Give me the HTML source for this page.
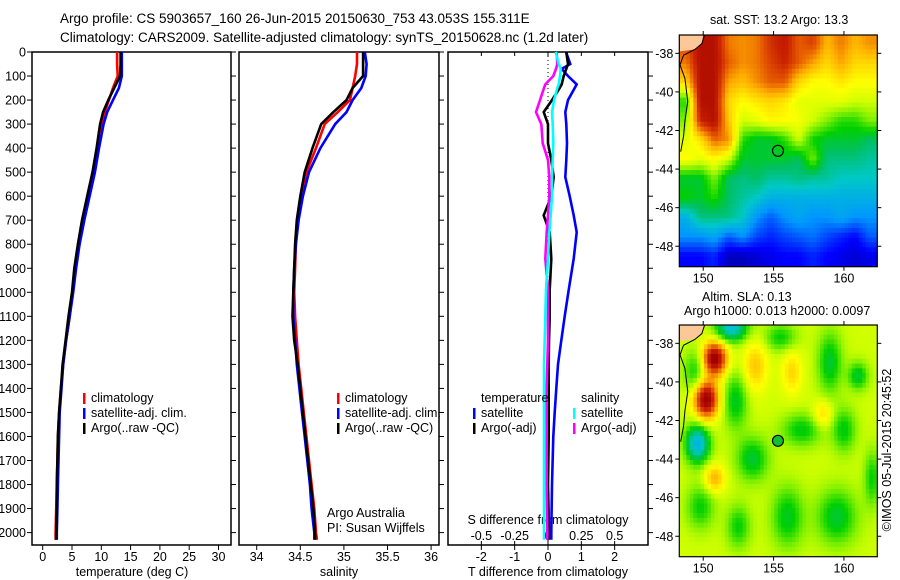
<!DOCTYPE html>
<html><head><meta charset="utf-8"><style>
body{margin:0;background:#fff}
svg{display:block;font-family:"Liberation Sans",sans-serif}
text{font-size:12.5px;fill:#000}
</style></head><body>
<svg id="s" width="900" height="580" xmlns="http://www.w3.org/2000/svg">
<rect width="900" height="580" fill="#fff"/>
<defs>
<clipPath id="c1"><rect x="679.3" y="35" width="198" height="231.7"/></clipPath>
<clipPath id="c2"><rect x="679.3" y="325" width="198" height="231.7"/></clipPath>
</defs>
<text x="60" y="23" style="font-size:13.5px">Argo profile: CS 5903657_160 26-Jun-2015 20150630_753 43.053S 155.311E</text>
<text x="60" y="42" style="font-size:13.5px">Climatology: CARS2009. Satellite-adjusted climatology: synTS_20150628.nc (1.2d later)</text>
<g id="g"></g>
</svg>
<script>
// ---- data ----
const depths=[0,50,100,150,200,250,300,400,500,600,700,800,900,1000,1100,1200,1300,1400,1500,1600,1700,1800,1900,2000,2030];
const tClim=[12.7,12.7,12.8,12.0,11.3,10.6,10.0,9.4,8.7,7.8,6.9,6.1,5.5,5.1,4.6,4.0,3.5,3.1,2.8,2.6,2.5,2.4,2.3,2.2,2.2];
const tSat=[13.5,13.5,13.5,13.0,12.0,11.0,10.4,9.6,8.9,8.0,7.1,6.3,5.7,5.2,4.6,4.0,3.5,3.2,2.9,2.8,2.7,2.6,2.5,2.4,2.4];
const tArgo=[13.3,13.3,13.2,12.2,11.2,10.3,9.8,9.2,8.5,7.6,6.7,6.0,5.4,5.0,4.4,3.9,3.4,3.1,2.8,2.6,2.5,2.4,2.4,2.3,2.3];
const sClim=[35.15,35.15,35.13,35.1,35.07,34.93,34.78,34.68,34.57,34.51,34.47,34.45,34.44,34.43,34.44,34.46,34.48,34.51,34.54,34.57,34.6,34.63,34.66,34.68,34.69];
const sSat=[35.24,35.26,35.25,35.2,35.1,35.03,34.9,34.73,34.6,34.53,34.48,34.45,34.43,34.42,34.42,34.44,34.46,34.49,34.52,34.55,34.58,34.61,34.63,34.66,34.66];
const sArgo=[35.22,35.22,35.22,35.1,35.03,34.88,34.74,34.64,34.55,34.5,34.46,34.44,34.43,34.42,34.41,34.43,34.47,34.5,34.53,34.56,34.59,34.62,34.65,34.67,34.67];
const dDepths=[0,50,70,100,135,150,200,250,300,380,450,520,600,680,750,860,990,1100,1200,1300,1400,1500,1600,1800,2000,2030];
const dtSat=[0.54,0.67,0.41,0.6,0.86,0.8,0.6,0.52,0.55,0.57,0.55,0.52,0.65,0.77,0.86,0.77,0.62,0.5,0.4,0.3,0.25,0.2,0.16,0.12,0.1,0.1];
const dtArgo=[0.55,0.6,0.55,0.47,0.41,0.35,0.12,-0.13,0,0,0.1,0.17,0.1,-0.13,0.05,0.1,0.05,0.05,0.03,0.02,0.02,0.02,0.02,0,0.03,0.03];
const dsSat=[0.058,0.08,0.095,0.09,0.08,0.07,0.045,0.03,0.035,0.04,0.035,0.03,0.03,0.02,0.01,0.0,-0.015,-0.02,-0.025,-0.03,-0.03,-0.03,-0.03,-0.03,-0.03,-0.03];
const dsArgo=[0.065,0.07,0.06,0.04,-0.02,-0.03,-0.06,-0.09,-0.05,-0.04,0,0.01,0.01,0.0,-0.01,-0.02,0,0,0,-0.005,-0.01,-0.01,-0.01,-0.01,-0.005,-0.005];
const depthTicks=[0,100,200,300,400,500,600,700,800,900,1000,1100,1200,1300,1400,1500,1600,1700,1800,1900,2000];
const tTicks=[0,5,10,15,20,25,30];
const sTicks=["34","34.5","35","35.5","36"];
const dtTicks=["-2","-1","0","1","2"];
const dsTicks=["-0.5","-0.25","0","0.25","0.5"];
const latTicks=[-38,-40,-42,-44,-46,-48];
const lonTicks=[150,155,160];
const sst=[
[.85,.95,.95,.8,.78,.8,.88,.92,.83,.86,.74,.8,.74,.78],
[.8,.95,.95,.83,.78,.8,.86,.9,.83,.76,.7,.76,.7,.7],
[.7,.95,.95,.76,.73,.78,.83,.83,.7,.65,.65,.68,.65,.65],
[.5,.95,.95,.7,.65,.68,.7,.68,.62,.62,.62,.62,.6,.6],
[.55,.9,.95,.72,.6,.62,.66,.65,.64,.6,.55,.5,.5,.55],
[.62,.68,.82,.78,.5,.45,.45,.5,.6,.48,.45,.45,.45,.42],
[.65,.62,.65,.6,.45,.45,.45,.45,.42,.55,.4,.4,.4,.38],
[.45,.45,.55,.42,.4,.42,.38,.38,.4,.38,.38,.35,.35,.35],
[.48,.45,.5,.42,.38,.35,.3,.3,.3,.3,.3,.3,.3,.3],
[.3,.4,.4,.4,.35,.25,.2,.25,.28,.25,.25,.28,.25,.25],
[.25,.25,.28,.2,.25,.18,.15,.18,.2,.22,.18,.15,.12,.2],
[.12,.12,.15,.06,.06,.08,.1,.12,.12,.15,.12,.1,.08,.1]];
const slaBase=0.6;
const slaLon=[150.8,150.2,149.6,152,153.7,156.3,150.8,149.5,152.3,155.5,157,159,161,153.5,160,159.5,156,152.5,149.8,162,158.5];
const slaLat=[-38.8,-40.9,-43.2,-37.2,-39.2,-39.5,-45,-39.5,-41,-37.7,-42.5,-39,-39.7,-44,-42.5,-47,-47,-47.5,-46.5,-45,-41.7];
const slaAmp=[.42,.42,-.3,-.27,.12,.1,.15,-.13,-.14,-.12,-.13,-.15,-.15,-.15,-.13,-.15,-.14,-.12,-.12,-.12,.1];
const slaSx=[.6,.6,.6,.8,.6,.5,.5,.6,.6,.8,1.0,.6,.5,.8,.6,1.0,.8,.6,.7,.4,.5];
const slaSy=[.6,.7,.7,.5,.9,.8,.5,.8,1.0,.5,.6,1.1,.5,.8,.8,1.0,1.1,.8,.8,1.0,.5];
const floatLon=155.311, floatLat=-43.053;

const NS="http://www.w3.org/2000/svg";
const G=document.getElementById('g');
function el(t,a,p){const e=document.createElementNS(NS,t);for(const k in a)e.setAttribute(k,a[k]);(p||G).appendChild(e);return e;}
function txt(x,y,s,anchor,p){const e=el('text',{x:x,y:y,'text-anchor':anchor||'start'},p);e.textContent=s;return e;}
const yTop=52,yBot=545;
const yD=d=>yTop+d*0.2403;
const panels=[{x0:32,x1:231},{x0:239,x1:439},{x0:448,x1:648}];
const xT=t=>42.7+t*5.86, xS=s=>256.7+(s-34)*87.2, xDT=v=>548+v*33.33, xDS=v=>548+v*133.3;

panels.forEach((p,i)=>{
 const r=el('rect',{x:p.x0,y:yTop,width:p.x1-p.x0,height:yBot-yTop,fill:'none',stroke:'#000','stroke-width':1.5});
 
 
});
depthTicks.forEach(d=>{
 el('line',{x1:27,x2:32,y1:yD(d),y2:yD(d),stroke:'#000'});
 el('line',{x1:231,x2:236,y1:yD(d),y2:yD(d),stroke:'#000'});
 el('line',{x1:439,x2:444,y1:yD(d),y2:yD(d),stroke:'#000'});
 el('line',{x1:648,x2:653,y1:yD(d),y2:yD(d),stroke:'#000'});
 const t=txt(26,yD(d)+4.5,String(d),'end');
 
 
});
tTicks.forEach(v=>{el('line',{x1:xT(v),x2:xT(v),y1:yBot,y2:yBot+5,stroke:'#000'});const t=txt(xT(v),561,String(v),'middle');});
sTicks.forEach(v=>{el('line',{x1:xS(+v),x2:xS(+v),y1:yBot,y2:yBot+5,stroke:'#000'});const t=txt(xS(+v),561,v,'middle');});
dtTicks.forEach(v=>{el('line',{x1:xDT(+v),x2:xDT(+v),y1:yBot,y2:yBot+5,stroke:'#000'});el('line',{x1:xDT(+v),x2:xDT(+v),y1:yTop,y2:yTop+4,stroke:'#000'});const t=txt(xDT(+v),561,v,'middle');});
dsTicks.forEach(v=>{el('line',{x1:xDS(+v),x2:xDS(+v),y1:yBot-4,y2:yBot,stroke:'#000'});const t=txt(xDS(+v),540,v,'middle');});
let a;
a=txt(132,576,'temperature (deg C)','middle');
a=txt(339,576,'salinity','middle');
a=txt(548,576,'T difference from climatology','middle');
a=txt(548,524,'S difference from climatology','middle');
a=txt(327,517,'Argo Australia');
a=txt(327,532,'PI: Susan Wijffels');
el('line',{x1:548,x2:548,y1:yTop,y2:yBot,stroke:'#000','stroke-dasharray':'1,3'});

function line(ds,vs,fx,col,name){
 const pts=ds.map((d,i)=>fx(vs[i]).toFixed(1)+','+yD(d).toFixed(1)).join(' ');
 const e=el('polyline',{points:pts,fill:'none',stroke:col,'stroke-width':2.6});
 
 
}
line(depths,tClim,xT,'#f00','temp-climatology-line');
line(depths,tSat,xT,'#00f','temp-satellite-line');
line(depths,tArgo,xT,'#000','temp-argo-line');
line(depths,sClim,xS,'#f00','sal-climatology-line');
line(depths,sSat,xS,'#00f','sal-satellite-line');
line(depths,sArgo,xS,'#000','sal-argo-line');
line(dDepths,dtSat,xDT,'#00f','tdiff-satellite-line');
line(dDepths,dtArgo,xDT,'#000','tdiff-argo-line');
line(dDepths,dsArgo,xDS,'#f0f','sdiff-argo-line');
line(dDepths,dsSat,xDS,'#0ff','sdiff-satellite-line');

function legend(x,y,col,label,name){
 el('rect',{x:x,y:y-9,width:2.5,height:11,fill:col});
 const t=txt(x+8,y,label);
 
 
}
[[83],[337]].forEach(([x])=>{
 legend(x,402,'#f00','climatology','legend-climatology');
 legend(x,417,'#00f','satellite-adj. clim.','legend-satellite-adj');
 legend(x,432,'#000','Argo(..raw -QC)','legend-argo');
});
a=txt(481,402,'temperature');
a=txt(581,402,'salinity');
legend(473,417,'#00f','satellite','legend-t-satellite');
legend(473,432,'#000','Argo(-adj)','legend-t-argo');
legend(573,417,'#0ff','satellite','legend-s-satellite');
legend(573,432,'#f0f','Argo(-adj)','legend-s-argo');

const stops=[[0,[0,0,127]],[.12,[0,0,255]],[.25,[0,150,255]],[.35,[0,200,200]],[.42,[0,192,100]],[.48,[0,208,0]],[.55,[128,240,0]],[.6,[208,255,0]],[.65,[255,255,0]],[.75,[255,176,0]],[.83,[230,90,0]],[.9,[200,32,0]],[1,[160,0,0]]];
function cmap(v){v=Math.max(0,Math.min(1,v));for(let i=1;i<stops.length;i++){if(v<=stops[i][0]){const[a0,c0]=stops[i-1],[a1,c1]=stops[i];const f=(v-a0)/(a1-a0);return 'rgb('+c0.map((c,k)=>Math.round(c+(c1[k]-c)*f)).join(',')+')';}}return 'rgb(160,0,0)';}

function map(y0,y1,name,clip,fieldFn,filledMarker,titleLines){
 const x0=679.3,x1=877.3,lonL=148.3,lonR=162.37,latT=-37.05,latB=-49.06;
 const xl=l=>x0+(l-lonL)*(x1-x0)/(lonR-lonL), yl=l=>y0+(latT-l)*(y1-y0)/(latT-latB);
 const g=el('g',{});
 
 
 const cells=el('g',{'clip-path':'url(#'+clip+')'},g);
 const step=0.25;
 for(let lat=latT;lat>latB;lat-=step){
  for(let lon=lonL;lon<lonR;lon+=step){
   const v=fieldFn(lon+step/2,lat-step/2);
   el('rect',{x:xl(lon).toFixed(2),y:yl(lat).toFixed(2),width:(xl(lon+step)-xl(lon)+0.6).toFixed(2),height:(yl(lat-step)-yl(lat)+0.6).toFixed(2),fill:cmap(v)},cells);
  }
 }
 el('polygon',{points:`${x0},${y0} ${xl(150)},${y0} ${xl(149.9)},${yl(-37.5)} ${xl(149.4)},${yl(-37.8)} ${x0},${yl(-37.9)}`,fill:'#fdc898'},g);
 el('polyline',{points:`${xl(150.1)},${y0} ${xl(149.9)},${yl(-37.5)} ${xl(149.4)},${yl(-37.8)} ${xl(148.6)},${yl(-38.1)} ${xl(148.35)},${yl(-38.6)} ${xl(148.7)},${yl(-39.3)} ${xl(148.9)},${yl(-40.5)} ${xl(148.7)},${yl(-41.5)} ${xl(148.6)},${yl(-42.3)} ${xl(148.4)},${yl(-43.1)}`,fill:'none',stroke:'#000','stroke-width':1},g);
 el('rect',{x:x0,y:y0,width:x1-x0,height:y1-y0,fill:'none',stroke:'#000','stroke-width':1.2},g);
 latTicks.forEach(l=>{el('line',{x1:x0-4,x2:x0,y1:yl(l),y2:yl(l),stroke:'#000'},g);el('line',{x1:x1,x2:x1+4,y1:yl(l),y2:yl(l),stroke:'#000'},g);const t=txt(x0-6,yl(l)+4.5,String(l),'end',g);});
 lonTicks.forEach(l=>{el('line',{x1:xl(l),x2:xl(l),y1:y0-4,y2:y0,stroke:'#000'},g);el('line',{x1:xl(l),x2:xl(l),y1:y1,y2:y1+4,stroke:'#000'},g);const t=txt(xl(l),y1+16,String(l),'middle',g);});
 const m=el('circle',{cx:xl(floatLon),cy:yl(floatLat),r:5.5,fill:filledMarker?'#10c030':'none',stroke:'#000','stroke-width':1.2},g);
 
 
 titleLines.forEach(([x,y,s])=>{const t=txt(x,y,s,'start',g);});
}
function sstField(lon,lat){
 const c=Math.min(13,Math.max(0,lon-148.8)), r=Math.min(11,Math.max(0,-37.5-lat));
 const c0=Math.floor(c),r0=Math.floor(r),c1=Math.min(13,c0+1),r1=Math.min(11,r0+1),fc=c-c0,fr=r-r0;
 return sst[r0][c0]*(1-fc)*(1-fr)+sst[r0][c1]*fc*(1-fr)+sst[r1][c0]*(1-fc)*fr+sst[r1][c1]*fc*fr;
}
function slaField(lon,lat){
 let v=slaBase;
 for(let i=0;i<slaLon.length;i++){const dx=(lon-slaLon[i])/slaSx[i],dy=(lat-slaLat[i])/slaSy[i];v+=slaAmp[i]*Math.exp(-(dx*dx+dy*dy)/2);}
 return v;
}
map(35,266.7,'sst-map','c1',sstField,false,[[710,24,'sat. SST: 13.2 Argo: 13.3']]);
map(325,556.7,'sla-map','c2',slaField,true,[[702,301,'Altim. SLA: 0.13'],[684,315,'Argo h1000: 0.013 h2000: 0.0097']]);
a=txt(0,0,'©IMOS 05-Jul-2015 20:45:52','middle');
a.setAttribute('transform','translate(891,450) rotate(-90)');


</script>
</body></html>
